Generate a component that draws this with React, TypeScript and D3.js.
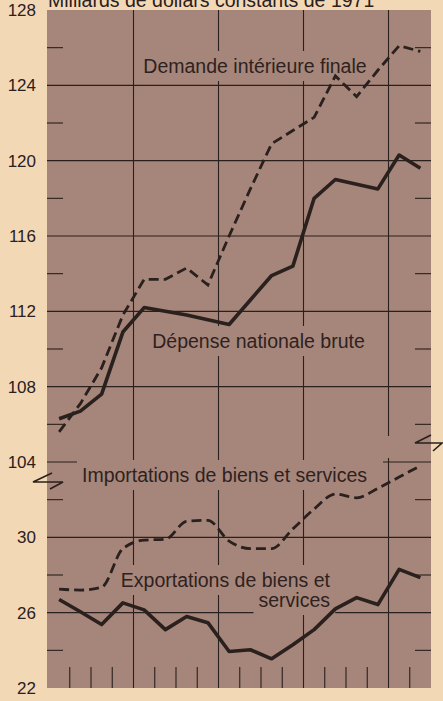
import { useEffect, useRef } from 'react'
import * as d3 from 'd3'

// trimestres, 1973 T1 a 1977 T2
const quarters = [
  '1973 T1', '1973 T2', '1973 T3', '1973 T4',
  '1974 T1', '1974 T2', '1974 T3', '1974 T4',
  '1975 T1', '1975 T2', '1975 T3', '1975 T4',
  '1976 T1', '1976 T2', '1976 T3', '1976 T4',
  '1977 T1', '1977 T2',
]

// partie haute (104-128)
const demandeInterieure = [105.6, 107.1, 109.0, 111.8, 113.7, 113.7, 114.3, 113.4, 116.0, 118.5, 120.9, 121.6, 122.3, 124.5, 123.4, 124.8, 126.1, 125.8]
const depenseNationale = [106.3, 106.7, 107.6, 110.9, 112.2, 112.0, 111.8, 111.55, 111.3, 112.6, 113.9, 114.4, 118.0, 119.0, 118.75, 118.5, 120.3, 119.6]

// partie basse (22-34)
const importations = [27.25, 27.2, 27.35, 29.4, 29.85, 29.9, 30.85, 30.9, 29.8, 29.4, 29.4, 30.45, 31.5, 32.3, 32.1, 32.6, 33.2, 33.8]
const exportations = [26.7, 26.05, 25.37, 26.52, 26.15, 25.1, 25.8, 25.47, 23.94, 24.03, 23.55, 24.3, 25.1, 26.2, 26.8, 26.43, 28.3, 27.86]

const ticksHaut = [104, 108, 112, 116, 120, 124, 128]
const ticksBas = [22, 26, 30]
const minorHaut = [106, 110, 114, 118, 122, 126]
const minorBas = [24, 28, 32]

const titre = 'Milliards de dollars constants de 1971'

const W = 443
const H = 701
const PAGE = '#f3d8b6'
const PLOT = '#a6867b'
const INK = '#2a201d'
const FONT = '"Liberation Sans", Arial, sans-serif'

export default function App() {
  const ref = useRef<SVGSVGElement>(null)

  useEffect(() => {
    if (!ref.current) return
    const svg = d3.select(ref.current)
    svg.selectAll('*').remove()

    const left = 47
    const right = 431
    const top = 10
    const bottom = 688
    const breakY = top + ((bottom - top) * 24) / 36

    const x = d3.scaleBand().domain(quarters).range([48.5, right]).padding(0)
    const bw = x.bandwidth()
    const xc = (q: string) => (x(q) || 0) + bw / 2

    const yHaut = d3.scaleLinear().domain([104, 128]).range([breakY, top])
    const yBas = d3.scaleLinear().domain([22, 34]).range([bottom, breakY])

    // fond
    svg.append('rect').attr('width', W).attr('height', H).attr('fill', PAGE)
    svg.append('rect')
      .attr('x', left).attr('y', top)
      .attr('width', right - left).attr('height', bottom - top)
      .attr('fill', PLOT)

    const gGrid = svg.append('g').attr('stroke', INK).attr('stroke-width', 1.1)
    const gKnock = svg.append('g')
    const gLines = svg.append('g').attr('fill', 'none').attr('stroke', INK)
    const gLabels = svg.append('g')
      .style('font-family', FONT).style('font-size', '19.5px').attr('fill', '#2e2220')

    // lignes verticales (années), interrompues dans la zone de coupure
    quarters.forEach((q, i) => {
      if (i === 0) return
      const xx = x(q) || 0
      if (i % 4 === 0) {
        const last = i === 16
        gGrid.append('line').attr('x1', xx).attr('x2', xx)
          .attr('y1', top).attr('y2', last ? breakY - 26 : breakY - 1)
        gGrid.append('line').attr('x1', xx).attr('x2', xx)
          .attr('y1', last ? breakY - 4 : breakY + 26).attr('y2', bottom)
      } else {
        gGrid.append('line').attr('x1', xx).attr('x2', xx).attr('y1', bottom - 21).attr('y2', bottom)
      }
    })

    // lignes horizontales
    ticksHaut.filter(v => v > 104 && v < 128).forEach(v => {
      gGrid.append('line').attr('x1', left).attr('x2', right).attr('y1', yHaut(v)).attr('y2', yHaut(v))
    })
    ticksBas.filter(v => v > 22).forEach(v => {
      gGrid.append('line').attr('x1', left).attr('x2', right).attr('y1', yBas(v)).attr('y2', yBas(v))
    })
    // 104 : ligne coupée
    gGrid.append('line').attr('x1', left).attr('x2', 101).attr('y1', yHaut(104)).attr('y2', yHaut(104))
    gGrid.append('line').attr('x1', 383).attr('x2', right).attr('y1', yHaut(104)).attr('y2', yHaut(104))

    // petits traits
    const minor = [...minorHaut.map(v => yHaut(v)), ...minorBas.map(v => yBas(v))]
    minor.forEach(yy => {
      gGrid.append('line').attr('x1', left).attr('x2', left + 16).attr('y1', yy).attr('y2', yy)
      gGrid.append('line').attr('x1', right - 16).attr('x2', right).attr('y1', yy).attr('y2', yy)
    })

    // courbes
    const lineHaut = d3.line<number>().x((_, i) => xc(quarters[i])).y(d => yHaut(d))
    const lineBas = d3.line<number>().x((_, i) => xc(quarters[i])).y(d => yBas(d))

    gLines.append('path').attr('d', lineHaut(demandeInterieure))
      .attr('stroke-width', 2.8).attr('stroke-dasharray', '10,5')
    gLines.append('path').attr('d', lineHaut(depenseNationale))
      .attr('stroke-width', 3.6).attr('stroke-linejoin', 'round')
    gLines.append('path').attr('d', lineBas.curve(d3.curveMonotoneX)(importations))
      .attr('stroke-width', 2.8).attr('stroke-dasharray', '10,5')
    gLines.append('path').attr('d', lineBas.curve(d3.curveLinear)(exportations))
      .attr('stroke-width', 3.6).attr('stroke-linejoin', 'round')

    // étiquettes des séries, avec fond pour couper la grille
    const labels: [string, number, number, string][] = [
      ['Demande intérieure finale', 255, 73, 'middle'],
      ['Dépense nationale brute', 258.5, 348, 'middle'],
      ['Importations de biens et services', 224.5, 482, 'middle'],
      ['Exportations de biens et', 330, 587, 'end'],
      ['services', 330, 607, 'end'],
    ]
    labels.forEach(([t, lx, ly, anchor]) => {
      const txt = gLabels.append('text').attr('x', lx).attr('y', ly)
        .attr('text-anchor', anchor).text(t)
      const b = (txt.node() as SVGTextElement).getBBox()
      gKnock.append('rect')
        .attr('x', b.x - 5).attr('y', b.y - 4)
        .attr('width', b.width + 10).attr('height', b.height + 8)
        .attr('fill', PLOT)
    })

    // symboles de coupure
    const brk = svg.append('g').attr('fill', 'none').attr('stroke', INK).attr('stroke-width', 1.6)
    brk.append('path').attr('d', `M52,${breakY + 11} L33,${breakY + 20} L63,${breakY + 20} L50,${breakY + 27}`)
    brk.append('path').attr('d', `M431,${breakY - 27} L415,${breakY - 19} L442,${breakY - 19} L433,${breakY - 11}`)

    // axe des y
    const gAxis = svg.append('g')
      .style('font-family', FONT).style('font-size', '17px').attr('fill', INK)
      .attr('text-anchor', 'end')
    ticksHaut.forEach(v => {
      gAxis.append('text').attr('x', 36).attr('y', yHaut(v)).attr('dy', '0.36em').text(v)
    })
    ticksBas.forEach(v => {
      gAxis.append('text').attr('x', 36).attr('y', yBas(v)).attr('dy', '0.36em').text(v)
    })

    // titre (coupé en haut, comme dans l'original)
    svg.append('text').attr('x', 48).attr('y', 7)
      .style('font-family', FONT).style('font-size', '19.5px').attr('fill', INK)
      .text(titre)
  }, [])

  return (
    <svg
      ref={ref}
      width={W}
      height={H}
      style={{ position: 'absolute', left: 0, top: 0, display: 'block' }}
    />
  )
}
